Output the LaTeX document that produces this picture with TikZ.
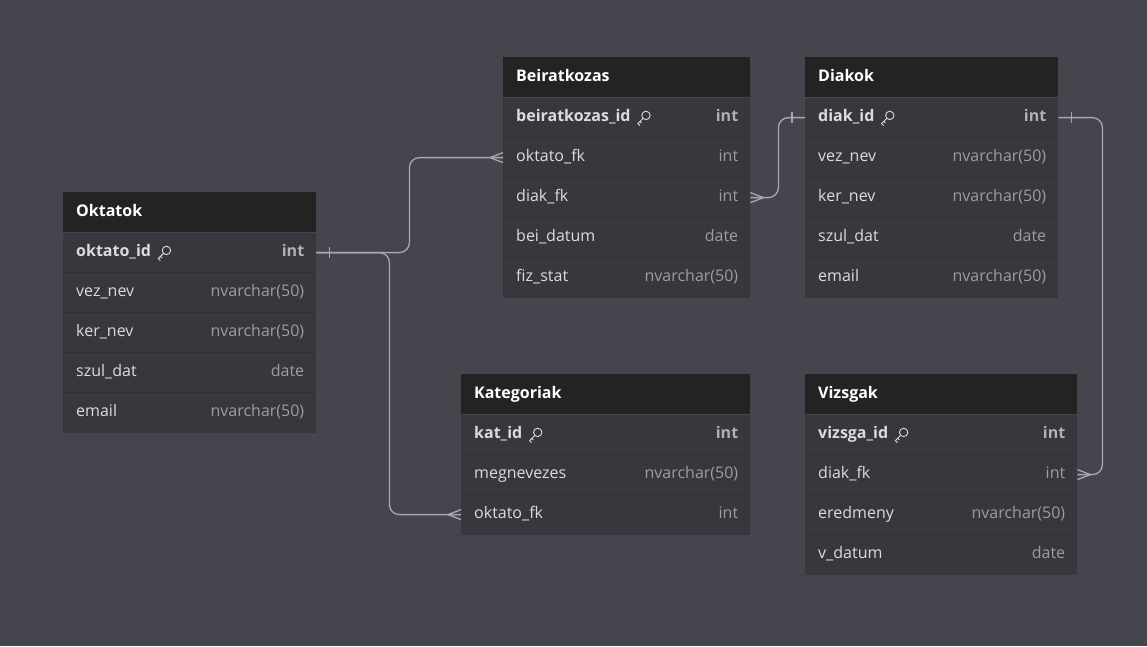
\documentclass[tikz,border=0pt]{standalone}
\usepackage{fontspec}
\setmainfont{Open Sans}[BoldFont={Open Sans Bold}]
\usetikzlibrary{positioning}

\definecolor{bg}{HTML}{45454E}
\definecolor{tbody}{HTML}{37373E}
\definecolor{thead}{HTML}{232323}
\definecolor{tsep}{HTML}{303036}
\definecolor{fname}{HTML}{DCDCDE}
\definecolor{ftype}{HTML}{9C9CA2}
\definecolor{link}{HTML}{A8A8B0}

\tikzset{
  cell/.style={inner sep=0pt, text height=12pt, text depth=4pt,
    font=\fontsize{16}{18}\selectfont},
  tabhead/.style={fill=thead, minimum height=40pt, inner sep=0pt},
  tabrow/.style={fill=tbody, minimum height=40pt, inner sep=0pt},
  headtext/.style={cell, anchor=west, text=white, font=\bfseries\fontsize{16}{18}\selectfont},
  colname/.style={cell, anchor=west, text=fname},
  coltype/.style={cell, anchor=east, text=ftype},
  pkname/.style={colname, font=\bfseries\fontsize{16}{18}\selectfont},
  pktype/.style={coltype, text=ftype!80!white, font=\bfseries\fontsize{16}{18}\selectfont},
  sepline/.style={draw=tsep, line width=0.8pt},
  rel/.style={draw=link, line width=1.3pt, rounded corners=10pt},
  keyicon/.pic={
    \draw[fname, line width=0.9pt] (2.2pt,2.2pt) circle (4.2pt);
    \draw[fname, line width=0.9pt] (-0.8pt,-0.8pt) -- (-6pt,-6pt) -- (-4pt,-8pt);
    \draw[fname, line width=0.9pt] (-3.8pt,-3.8pt) -- (-2.2pt,-5.4pt);
  },
  crowin/.pic={
    \draw[link, line width=1.3pt] (-13pt,0pt) -- (0pt,5pt) (-13pt,0pt) -- (0pt,-5pt);
  },
  crowout/.pic={
    \draw[link, line width=1.3pt] (13pt,0pt) -- (0pt,5pt) (13pt,0pt) -- (0pt,-5pt);
  },
}

% #1 name, #2 top left, #3 width, #4 title, #5 rows (first one is the key)
\newcommand{\erdtable}[5]{%
  \node[tabhead, minimum width=#3, anchor=north west] (#1) at #2 {};
  \node[headtext] (#1-title) at ([xshift=13pt]#1.west) {#4};
  \foreach \fn/\ft [count=\i] in {#5} {
    \node[tabrow, minimum width=#3, anchor=north west] (#1-\i)
      at ([yshift={-40pt*(\i-1)}]#1.south west) {};
    \ifnum\i>1
      \draw[sepline] (#1-\i.north west) -- (#1-\i.north east);
      \node[colname] (#1-\i-n) at ([xshift=13pt]#1-\i.west) {\fn};
      \node[coltype] (#1-\i-t) at ([xshift=-12pt]#1-\i.east) {\ft};
    \else
      \node[pkname] (#1-\i-n) at ([xshift=13pt]#1-\i.west) {\fn};
      \node[pktype] (#1-\i-t) at ([xshift=-12pt]#1-\i.east) {\ft};
      \pic at ([xshift=13pt]#1-\i-n.east) {keyicon};
    \fi
  }
}

\begin{document}
\begin{tikzpicture}[x=1pt, y=-1pt]
  \fill[bg] (0,0) rectangle (1147,646);
  \useasboundingbox (0,0) rectangle (1147,646);

  \erdtable{okt}{(63,192)}{253pt}{Oktatok}{oktato\_id/int, vez\_nev/nvarchar(50),
    ker\_nev/nvarchar(50), szul\_dat/date, email/nvarchar(50)}
  \erdtable{bei}{(503,57)}{247pt}{Beiratkozas}{beiratkozas\_id/int, oktato\_fk/int,
    diak\_fk/int, bei\_datum/date, fiz\_stat/nvarchar(50)}
  \erdtable{dia}{(805,57)}{253pt}{Diakok}{diak\_id/int, vez\_nev/nvarchar(50),
    ker\_nev/nvarchar(50), szul\_dat/date, email/nvarchar(50)}
  \erdtable{kat}{(461,374)}{289pt}{Kategoriak}{kat\_id/int, megnevezes/nvarchar(50),
    oktato\_fk/int}
  \erdtable{viz}{(805,374)}{272pt}{Vizsgak}{vizsga\_id/int, diak\_fk/int,
    eredmeny/nvarchar(50), v\_datum/date}

  % relations
  \draw[rel] (okt-1.east) -- ++(93,0) |- (bei-2.west);
  \draw[rel] (okt-1.east) -- ++(73,0) |- (kat-3.west);
  \draw[rel] (bei-3.east) -- ++(28,0) |- (dia-1.west);
  \draw[rel] (dia-1.east) -- ++(44,0) |- (viz-2.east);

  % ends
  \draw[rel] ([xshift=13pt,yshift=5.5pt]okt-1.east) -- ([xshift=13pt,yshift=-5.5pt]okt-1.east);
  \draw[rel] ([xshift=-13pt,yshift=5.5pt]dia-1.west) -- ([xshift=-13pt,yshift=-5.5pt]dia-1.west);
  \draw[rel] ([xshift=13pt,yshift=5.5pt]dia-1.east) -- ([xshift=13pt,yshift=-5.5pt]dia-1.east);
  \pic at (bei-2.west) {crowin};
  \pic at (kat-3.west) {crowin};
  \pic at (bei-3.east) {crowout};
  \pic at (viz-2.east) {crowout};
\end{tikzpicture}
\end{document}
